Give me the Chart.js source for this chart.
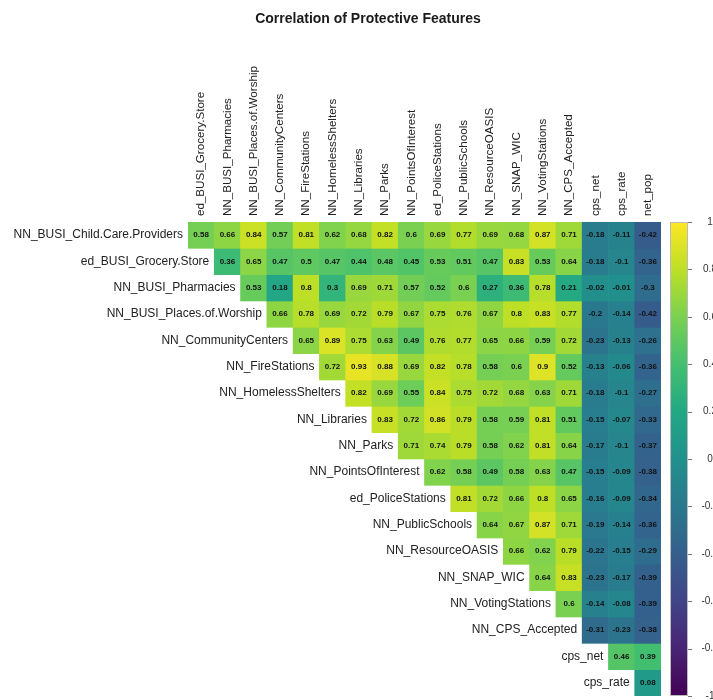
<!DOCTYPE html>
<html>
<head>
<meta charset="utf-8">
<title>Correlation of Protective Features</title>
<script src="https://cdn.jsdelivr.net/npm/chart.js@4.4.1/dist/chart.umd.min.js"></script>
<style>
  html, body { margin: 0; padding: 0; background: #fff; }
  #wrap { width: 713px; height: 700px; }
</style>
</head>
<body>
<div id="wrap"><canvas id="corr"></canvas></div>
<script>
// variables down the side (rows) and along the top (columns)
const rowNames = [
  'NN_BUSI_Child.Care.Providers', 'ed_BUSI_Grocery.Store', 'NN_BUSI_Pharmacies',
  'NN_BUSI_Places.of.Worship', 'NN_CommunityCenters', 'NN_FireStations',
  'NN_HomelessShelters', 'NN_Libraries', 'NN_Parks', 'NN_PointsOfInterest',
  'ed_PoliceStations', 'NN_PublicSchools', 'NN_ResourceOASIS', 'NN_SNAP_WIC',
  'NN_VotingStations', 'NN_CPS_Accepted', 'cps_net', 'cps_rate'
];
const colNames = [
  'ed_BUSI_Grocery.Store', 'NN_BUSI_Pharmacies', 'NN_BUSI_Places.of.Worship',
  'NN_CommunityCenters', 'NN_FireStations', 'NN_HomelessShelters', 'NN_Libraries',
  'NN_Parks', 'NN_PointsOfInterest', 'ed_PoliceStations', 'NN_PublicSchools',
  'NN_ResourceOASIS', 'NN_SNAP_WIC', 'NN_VotingStations', 'NN_CPS_Accepted',
  'cps_net', 'cps_rate', 'net_pop'
];

// upper triangle, row i starts at column i
const corr = [
  [0.58, 0.66, 0.84, 0.57, 0.81, 0.62, 0.68, 0.82, 0.6, 0.69, 0.77, 0.69, 0.68, 0.87, 0.71, -0.18, -0.11, -0.42],
  [0.36, 0.65, 0.47, 0.5, 0.47, 0.44, 0.48, 0.45, 0.53, 0.51, 0.47, 0.83, 0.53, 0.64, -0.18, -0.1, -0.36],
  [0.53, 0.18, 0.8, 0.3, 0.69, 0.71, 0.57, 0.52, 0.6, 0.27, 0.36, 0.78, 0.21, -0.02, -0.01, -0.3],
  [0.66, 0.78, 0.69, 0.72, 0.79, 0.67, 0.75, 0.76, 0.67, 0.8, 0.83, 0.77, -0.2, -0.14, -0.42],
  [0.65, 0.89, 0.75, 0.63, 0.49, 0.76, 0.77, 0.65, 0.66, 0.59, 0.72, -0.23, -0.13, -0.26],
  [0.72, 0.93, 0.88, 0.69, 0.82, 0.78, 0.58, 0.6, 0.9, 0.52, -0.13, -0.06, -0.36],
  [0.82, 0.69, 0.55, 0.84, 0.75, 0.72, 0.68, 0.63, 0.71, -0.18, -0.1, -0.27],
  [0.83, 0.72, 0.86, 0.79, 0.58, 0.59, 0.81, 0.51, -0.15, -0.07, -0.33],
  [0.71, 0.74, 0.79, 0.58, 0.62, 0.81, 0.64, -0.17, -0.1, -0.37],
  [0.62, 0.58, 0.49, 0.58, 0.63, 0.47, -0.15, -0.09, -0.38],
  [0.81, 0.72, 0.66, 0.8, 0.65, -0.16, -0.09, -0.34],
  [0.64, 0.67, 0.87, 0.71, -0.19, -0.14, -0.36],
  [0.66, 0.62, 0.79, -0.22, -0.15, -0.29],
  [0.64, 0.83, -0.23, -0.17, -0.39],
  [0.6, -0.14, -0.08, -0.39],
  [-0.31, -0.23, -0.38],
  [0.46, 0.39],
  [0.08]
];

const legendTicks = [1, 0.8, 0.6, 0.4, 0.2, 0, -0.2, -0.4, -0.6, -0.8, -1];

const viridis = ['#440154', '#482475', '#414487', '#355f8d', '#2a788e',
  '#21918c', '#22a884', '#44bf70', '#7ad151', '#bddf26', '#fde725'];

function hexRgb(h) {
  return [1, 3, 5].map(k => parseInt(h.slice(k, k + 2), 16));
}

// -1..1 onto the viridis ramp
function viridisColor(v) {
  const t = Math.max(0, Math.min(1, (v + 1) / 2)) * (viridis.length - 1);
  const i = Math.min(Math.floor(t), viridis.length - 2);
  const f = t - i;
  const a = hexRgb(viridis[i]), b = hexRgb(viridis[i + 1]);
  const c = a.map((x, k) => Math.round(x + (b[k] - x) * f));
  return `rgb(${c[0]},${c[1]},${c[2]})`;
}

const datasets = rowNames.map((name, i) => ({
  label: name,
  data: colNames.map((c, j) => (j >= i ? [i, i + 1] : null)),
  backgroundColor: colNames.map((c, j) => (j >= i ? viridisColor(corr[i][j - i]) : 'rgba(0,0,0,0)')),
  borderWidth: 0,
  grouped: false,
  barPercentage: 1,
  categoryPercentage: 1
}));

const FONT = "'Liberation Sans', Arial, sans-serif";

const labelsPlugin = {
  id: 'corrLabels',
  afterDatasetsDraw(chart) {
    const { ctx, chartArea, scales } = chart;
    const x = scales.x, y = scales.y;
    const colW = x.getPixelForValue(1) - x.getPixelForValue(0);

    ctx.save();
    // title
    ctx.fillStyle = '#1a1a1a';
    ctx.font = `bold 14px ${FONT}`;
    ctx.textAlign = 'center';
    ctx.textBaseline = 'middle';
    ctx.fillText('Correlation of Protective Features', 368, 19);

    // cell values
    ctx.fillStyle = '#111';
    ctx.font = `bold 8px ${FONT}`;
    rowNames.forEach((name, i) => {
      const meta = chart.getDatasetMeta(i);
      corr[i].forEach((v, k) => {
        const el = meta.data[i + k];
        const cy = (el.y + el.base) / 2;
        ctx.fillText(String(v), el.x, cy);
      });
    });

    // row labels, right aligned against the first cell of each row
    ctx.font = `12px ${FONT}`;
    ctx.fillStyle = '#222';
    ctx.textAlign = 'right';
    rowNames.forEach((name, i) => {
      const left = x.getPixelForValue(i) - colW / 2;
      ctx.fillText(name, left - 5, y.getPixelForValue(i + 0.5));
    });

    // column labels, vertical along the top
    ctx.font = `11.6px ${FONT}`;
    ctx.textAlign = 'left';
    colNames.forEach((name, j) => {
      ctx.save();
      ctx.translate(x.getPixelForValue(j), chartArea.top - 6);
      ctx.rotate(-Math.PI / 2);
      ctx.fillText(name, 0, 0);
      ctx.restore();
    });

    // colour bar
    const top = y.getPixelForValue(0), bottom = y.getPixelForValue(18);
    const bx = chartArea.right + 9, bw = 18;
    const grad = ctx.createLinearGradient(0, bottom, 0, top);
    viridis.forEach((c, k) => grad.addColorStop(k / (viridis.length - 1), c));
    ctx.fillStyle = grad;
    ctx.fillRect(bx, top, bw, bottom - top);
    ctx.strokeStyle = '#bbb';
    ctx.lineWidth = 1;
    ctx.strokeRect(bx + 0.5, top + 0.5, bw - 1, bottom - top - 1);

    ctx.font = `10px ${FONT}`;
    ctx.fillStyle = '#333';
    ctx.textAlign = 'center';
    ctx.strokeStyle = '#777';
    legendTicks.forEach(t => {
      const ty = top + (1 - t) / 2 * (bottom - top);
      ctx.beginPath();
      ctx.moveTo(bx + bw, Math.round(ty) + 0.5);
      ctx.lineTo(bx + bw + 4, Math.round(ty) + 0.5);
      ctx.stroke();
      ctx.fillText(String(t), bx + bw + 22, ty);
    });
    ctx.restore();
  }
};

new Chart(document.getElementById('corr'), {
  type: 'bar',
  data: { labels: colNames, datasets: datasets },
  options: {
    responsive: true,
    maintainAspectRatio: false,
    animation: false,
    layout: { padding: { top: 222, left: 188, right: 52, bottom: 4 } },
    plugins: {
      legend: { display: false },
      tooltip: { enabled: false }
    },
    scales: {
      x: { display: false, offset: true },
      y: { display: false, min: 0, max: 18, reverse: true }
    }
  },
  plugins: [labelsPlugin]
});
</script>
</body>
</html>
